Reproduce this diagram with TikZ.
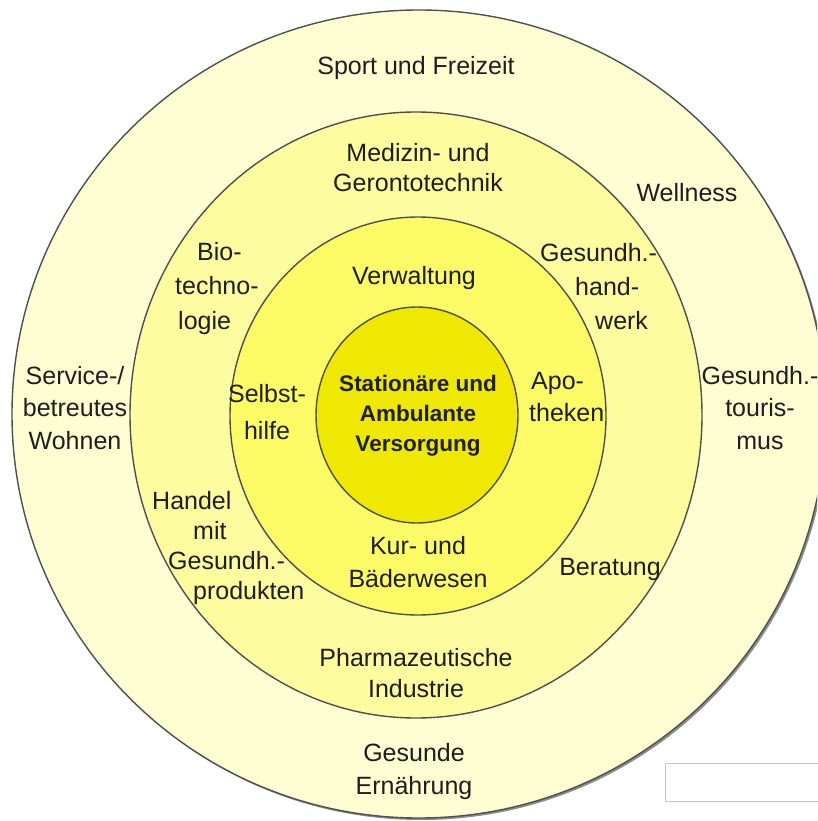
\documentclass[tikz,border=0pt]{standalone}
\usepackage{fontspec}
\setmainfont{Liberation Sans}
\definecolor{ringA}{HTML}{FEFED2}
\definecolor{ringB}{HTML}{FDFC9E}
\definecolor{ringC}{HTML}{FCFB66}
\definecolor{ringD}{HTML}{EFE800}
\definecolor{edge}{HTML}{505050}
\definecolor{txt}{HTML}{1E1E1E}
\tikzset{
  ring/.style={draw=edge, line width=1.4pt},
  lbl/.style={inner sep=0pt, text=txt, align=center, anchor=base, font=\fontsize{25}{31}\selectfont},
  lblL/.style={lbl, align=left, anchor=base west},
  core/.style={lbl, font=\bfseries\fontsize{22.5}{30}\selectfont},
}
\begin{document}
\begin{tikzpicture}[x=1pt,y=-1pt]
\useasboundingbox (0,0) rectangle (817,821);
\fill[white] (0,0) rectangle (817,821);
\begin{scope}
\clip (0,0) rectangle (817,821);
\fill[black!45] (421,416) ellipse [x radius=407pt, y radius=404pt];
\draw[ring, fill=ringA] (419,414) ellipse [x radius=407pt, y radius=404pt];
\end{scope}
\draw[ring, fill=ringB] (416,415) ellipse [x radius=286pt, y radius=303pt];
\draw[ring, fill=ringC] (418,416) ellipse [x radius=188pt, y radius=199pt];
\draw[ring, fill=ringD] (417,415) ellipse [x radius=101pt, y radius=108pt];
\draw[draw=black!22, fill=white, line width=0.8pt] (665,763) rectangle (830,801);

\node[lbl] (sport) at (416,75) {Sport und Freizeit};
\node[lbl] (medizin) at (418,192) {Medizin- und\\Gerontotechnik};
\node[lbl] (wellness) at (687,201) {Wellness};
\node[lblL, font=\fontsize{25}{34.5}\selectfont] (bio) at (175,329) {\hspace*{22pt}Bio-\\techno-\\\hspace*{3pt}logie};
\node[lbl] (verwaltung) at (414,284) {Verwaltung};
\node[lblL, font=\fontsize{25}{34}\selectfont] (handwerk) at (540,329) {Gesundh.-\\\hspace*{35pt}hand-\\\hspace*{55pt}werk};
\node[lbl, font=\fontsize{25}{32.5}\selectfont] (service) at (75,449) {Service-/\\betreutes\\Wohnen};
\node[lbl, font=\fontsize{25}{37}\selectfont] (selbst) at (267,439) {Selbst-\\hilfe};
\node[core] (center) at (418,451) {Stationäre und\\Ambulante\\Versorgung};
\node[lblL, font=\fontsize{25}{32}\selectfont] (apo) at (529,421) {\hspace*{2pt}Apo-\\theken};
\node[lbl, font=\fontsize{25}{32.5}\selectfont] (tourismus) at (760,449) {Gesundh.-\\touris-\\mus};
\node[lblL, font=\fontsize{25}{30}\selectfont] (handel) at (152,599) {Handel\\\hspace*{41pt}mit\\\hspace*{16pt}Gesundh.-\\\hspace*{41pt}produkten};
\node[lbl, font=\fontsize{25}{33}\selectfont] (kur) at (418,587) {Kur- und\\Bäderwesen};
\node[lbl] (beratung) at (610,575) {Beratung};
\node[lbl] (pharma) at (416,697) {Pharmazeutische\\Industrie};
\node[lbl, font=\fontsize{25}{33}\selectfont] (gesunde) at (414,794) {Gesunde\\Ernährung};
\end{tikzpicture}
\end{document}
